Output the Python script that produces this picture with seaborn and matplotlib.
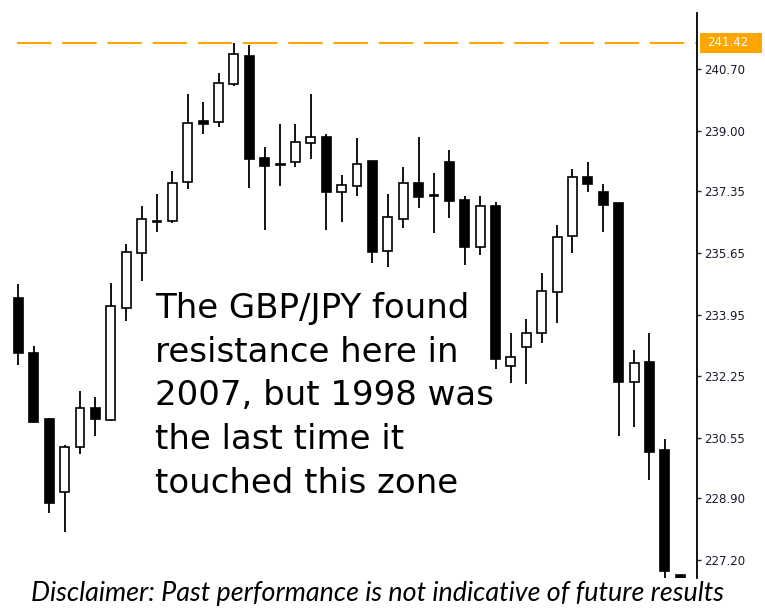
import matplotlib
matplotlib.use("Agg")
import matplotlib.pyplot as plt
import matplotlib.transforms as mtransforms
from matplotlib.patches import Rectangle
import seaborn as sns
import pandas as pd
import numpy as np

# Daily GBP/JPY candles (left to right)
opens = [234.40, 232.89, 231.08, 229.07, 230.31, 231.38, 231.05, 234.13, 235.64, 236.52,
         236.52, 237.59, 239.27, 239.24, 240.29, 241.06, 238.25, 238.10, 238.14, 238.67,
         238.83, 237.32, 237.48, 238.17, 235.70, 236.58, 237.57, 237.25, 238.14, 237.10,
         235.81, 236.93, 232.53, 233.06, 233.44, 234.57, 236.11, 237.73, 237.32, 237.02,
         232.09, 232.64, 230.22, 226.79]
highs = [234.79, 233.08, 231.10, 230.36, 231.85, 231.68, 234.82, 235.89, 236.93, 237.26,
         237.90, 240.01, 239.79, 240.59, 241.42, 241.36, 238.56, 239.19, 239.19, 240.01,
         238.91, 237.79, 238.80, 238.17, 237.26, 238.01, 238.83, 237.84, 238.47, 237.21,
         237.21, 237.04, 233.44, 233.83, 235.09, 236.41, 237.95, 238.14, 237.54, 237.02,
         232.97, 233.44, 230.53, 226.80]
lows = [232.56, 230.96, 228.49, 227.97, 230.11, 230.61, 231.03, 233.77, 234.87, 236.22,
        236.47, 237.40, 238.91, 239.11, 240.23, 237.43, 236.27, 237.48, 238.01, 238.23,
        236.27, 236.49, 237.21, 235.37, 235.26, 236.33, 236.88, 236.19, 236.60, 235.31,
        235.59, 232.45, 232.07, 232.04, 233.17, 233.72, 235.64, 237.32, 236.22, 230.61,
        230.86, 229.40, 226.70, 226.00]
closes = [232.89, 230.99, 228.77, 230.31, 231.38, 231.08, 234.18, 235.67, 236.58, 236.50,
          237.57, 239.22, 239.19, 240.32, 241.11, 238.23, 238.03, 238.07, 238.69, 238.83,
          237.32, 237.51, 238.09, 235.67, 236.63, 237.57, 237.18, 237.22, 237.07, 235.81,
          236.93, 232.73, 232.78, 233.44, 234.60, 236.08, 237.73, 237.54, 236.96, 232.09,
          232.62, 230.17, 226.90, 226.30]

price_ticks = [240.70, 239.00, 237.35, 235.65, 233.95, 232.25, 230.55, 228.90, 227.20]
resistance = 241.42

note = ("The GBP/JPY found\nresistance here in\n2007, but 1998 was\n"
        "the last time it\ntouched this zone")
disclaimer = "Disclaimer: Past performance is not indicative of future results"


def main():
    df = pd.DataFrame({"open": opens, "high": highs, "low": lows, "close": closes})
    df["idx"] = np.arange(len(df))
    df["up"] = df["close"] >= df["open"]
    df["bottom"] = df[["open", "close"]].min(axis=1)
    df["body"] = (df["close"] - df["open"]).abs()

    sns.set_style("white")
    plt.rcParams["font.family"] = ["DejaVu Sans"]

    fig = plt.figure(figsize=(7.65, 6.09), dpi=100)
    ax = fig.add_axes([0, 0.0509, 0.9111, 0.9278])

    # wicks first, bodies on top
    ax.vlines(df["idx"], df["low"], df["high"], color="black", lw=1.3, zorder=2)
    ax.bar(df["idx"], df["body"], bottom=df["bottom"], width=0.58,
           color=np.where(df["up"], "white", "black"), edgecolor="black",
           linewidth=1.2, zorder=3)

    # resistance line + price tag
    ax.axhline(resistance, xmin=0.024, xmax=1, color="#FFA500", lw=1.5,
               dashes=(16.5, 5.2), zorder=1)
    trans = mtransforms.blended_transform_factory(ax.transAxes, ax.transData)
    ax.add_patch(Rectangle((1.0043, resistance - 0.28), 0.089, 0.56,
                           transform=trans, fc="#FFA500", ec="none",
                           clip_on=False, zorder=4))
    ax.text(1.014, resistance, f"{resistance:.2f}", transform=trans,
            ha="left", va="center", color="white", fontsize=8.5,
            clip_on=False, zorder=5)

    ax.set_xlim(-1.20, 44.09)
    ax.set_ylim(226.71, 242.24)

    ax.yaxis.tick_right()
    ax.set_yticks(price_ticks)
    ax.set_yticklabels([f"{p:.2f}" for p in price_ticks])
    ax.tick_params(axis="y", right=True, left=False, length=3, width=1,
                   direction="out", labelsize=8.5, labelcolor="#1b1b2f", pad=2)
    ax.set_xticks([])
    for side in ["left", "top", "bottom"]:
        ax.spines[side].set_visible(False)
    ax.spines["right"].set_color("black")
    ax.spines["right"].set_linewidth(1.3)

    ax.text(155 / 697, 1 - 279 / 565, note, transform=ax.transAxes,
            ha="left", va="top", fontsize=24.5, color="black", linespacing=1.41)

    fig.text(0.494, 1 - 593 / 609, disclaimer, ha="center", va="center",
             fontsize=19.4, style="italic", family=["Lato", "DejaVu Sans"],
             color="black")

    fig.savefig("out.png", dpi=100)


if __name__ == "__main__":
    main()
